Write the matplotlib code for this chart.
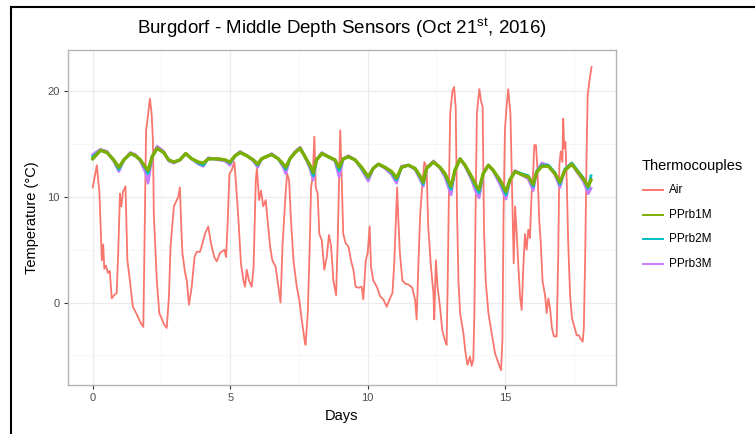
import matplotlib
matplotlib.use("Agg")
import matplotlib.pyplot as plt
from matplotlib.lines import Line2D

plt.rcParams["font.family"] = ["Liberation Sans", "DejaVu Sans"]
plt.rcParams["mathtext.fontset"] = "custom"
plt.rcParams["mathtext.rm"] = "Liberation Sans"
plt.rcParams["mathtext.it"] = "Liberation Sans:italic"

# Air temperature
air_days = [
    0.00, 0.08, 0.15, 0.20, 0.24, 0.33, 0.38, 0.42, 0.48, 0.55,
    0.62, 0.69, 0.78, 0.87, 0.93, 0.99, 1.04, 1.10, 1.19, 1.26,
    1.35, 1.46, 1.58, 1.76, 1.84, 1.88, 1.94, 2.00, 2.08, 2.14,
    2.19, 2.22, 2.33, 2.42, 2.60, 2.69, 2.77, 2.83, 2.95, 3.11,
    3.17, 3.21, 3.26, 3.36, 3.42, 3.50, 3.60, 3.70, 3.78, 3.90,
    3.99, 4.08, 4.20, 4.30, 4.42, 4.51, 4.63, 4.79, 4.85, 4.91,
    4.97, 5.05, 5.15, 5.20, 5.30, 5.39, 5.48, 5.54, 5.60, 5.68,
    5.78, 5.85, 5.93, 5.97, 6.05, 6.12, 6.20, 6.29, 6.36, 6.45,
    6.53, 6.65, 6.75, 6.83, 6.90, 6.97, 7.02, 7.07, 7.14, 7.21,
    7.30, 7.42, 7.51, 7.60, 7.70, 7.74, 7.82, 7.89, 7.94, 8.00,
    8.06, 8.11, 8.18, 8.24, 8.33, 8.42, 8.51, 8.59, 8.67, 8.75,
    8.85, 8.91, 8.96, 9.00, 9.05, 9.11, 9.20, 9.30, 9.39, 9.48,
    9.56, 9.66, 9.78, 9.84, 9.93, 10.00, 10.07, 10.12, 10.20, 10.33,
    10.45, 10.57, 10.69, 10.81, 10.90, 10.97, 11.02, 11.07, 11.11, 11.17,
    11.26, 11.36, 11.48, 11.62, 11.72, 11.78, 11.84, 11.91, 11.99, 12.06,
    12.14, 12.20, 12.30, 12.39, 12.42, 12.48, 12.54, 12.63, 12.71, 12.81,
    12.87, 12.91, 12.96, 13.00, 13.08, 13.14, 13.20, 13.25, 13.30, 13.36,
    13.48, 13.56, 13.63, 13.72, 13.78, 13.84, 13.88, 13.93, 13.97, 14.06,
    14.12, 14.18, 14.23, 14.29, 14.39, 14.51, 14.63, 14.75, 14.85, 14.90,
    14.94, 14.99, 15.05, 15.11, 15.19, 15.23, 15.31, 15.36, 15.42, 15.48,
    15.54, 15.60, 15.66, 15.72, 15.78, 15.84, 15.90, 15.96, 16.02, 16.06,
    16.12, 16.17, 16.24, 16.29, 16.36, 16.45, 16.51, 16.57, 16.63, 16.70,
    16.77, 16.87, 16.93, 16.97, 17.02, 17.08, 17.11, 17.15, 17.19, 17.24,
    17.29, 17.36, 17.43, 17.53, 17.60, 17.68, 17.74, 17.82, 17.86, 17.91,
    17.96, 18.00, 18.06, 18.11, 18.14,
]
air_temp = [
    10.9, 12.0, 13.0, 11.5, 10.6, 4.0, 5.5, 3.2, 3.5, 2.8,
    3.0, 0.4, 0.7, 0.9, 5.0, 10.3, 9.1, 10.5, 11.0, 4.0,
    2.1, -0.4, -1.0, -2.0, -2.3, 5.0, 16.3, 17.5, 19.3, 17.9,
    15.3, 8.4, 2.1, -1.0, -2.1, -2.4, 0.5, 5.3, 9.1, 10.0,
    10.9, 7.8, 4.7, 2.8, 2.1, -0.2, 1.5, 4.3, 4.8, 4.8,
    5.6, 6.5, 7.2, 5.6, 4.3, 3.9, 4.7, 5.0, 4.3, 7.8,
    12.2, 12.5, 13.3, 11.6, 7.8, 3.7, 2.1, 1.5, 3.1, 2.1,
    1.5, 3.4, 11.6, 12.7, 9.7, 10.6, 9.1, 9.7, 7.8, 5.3,
    4.0, 3.4, 1.5, 0.0, 5.3, 8.4, 10.6, 12.2, 11.6, 7.8,
    4.0, 1.5, 0.3, -1.6, -3.5, -4.0, -1.0, 5.3, 10.9, 11.9,
    15.7, 10.9, 10.3, 6.5, 5.9, 3.1, 4.3, 6.4, 5.3, 2.1,
    0.7, 5.9, 11.6, 16.3, 12.2, 6.5, 5.6, 5.3, 4.0, 3.1,
    1.5, 1.4, 1.5, 0.3, 4.0, 4.7, 7.2, 3.4, 2.1, 1.5,
    0.6, 0.3, -0.4, 0.4, 0.9, 4.0, 7.5, 10.9, 8.1, 4.7,
    2.1, 1.8, 1.7, 1.4, 0.3, -1.6, 3.4, 8.4, 11.3, 13.3,
    12.8, 7.2, 3.4, 0.9, -1.6, 4.0, 1.5, -0.4, -2.6, -3.6,
    -4.0, 2.1, 11.6, 17.9, 20.0, 20.4, 18.5, 8.4, 2.1, -1.0,
    -2.9, -4.8, -5.9, -5.1, -6.0, -5.4, -1.0, 10.0, 17.9, 20.2,
    19.1, 18.5, 6.9, 2.1, -1.0, -2.9, -4.8, -5.7, -6.4, -3.5,
    8.4, 16.3, 18.5, 20.2, 17.9, 13.1, 3.7, 9.1, 6.5, 3.4,
    0.6, -0.7, 3.4, 6.5, 5.0, 6.9, 6.1, 10.2, 12.5, 14.9,
    14.9, 12.8, 7.7, 5.8, 2.0, 0.7, -1.0, 0.4, -0.5, -2.4,
    -3.2, -3.2, 4.5, 13.0, 14.3, 13.3, 17.4, 14.6, 15.2, 11.4,
    5.8, 0.7, -1.5, -2.4, -3.1, -3.1, -3.4, -3.7, -2.4, 4.5,
    14.0, 19.6, 20.9, 21.8, 22.3,
]

# Thermocouple probes at middle depth
probe_days = [
    0.00, 0.28, 0.52, 0.76, 0.95, 1.13, 1.37, 1.55, 1.73, 1.92,
    2.01, 2.16, 2.34, 2.58, 2.76, 2.95, 3.17, 3.38, 3.60, 3.84,
    4.02, 4.20, 4.57, 4.81, 4.99, 5.18, 5.36, 5.60, 5.84, 6.00,
    6.14, 6.39, 6.51, 6.75, 6.93, 7.02, 7.17, 7.36, 7.54, 7.72,
    7.90, 8.02, 8.14, 8.33, 8.57, 8.81, 8.96, 9.11, 9.30, 9.54,
    9.78, 10.02, 10.20, 10.39, 10.63, 10.87, 11.05, 11.23, 11.48, 11.72,
    11.90, 12.02, 12.14, 12.39, 12.63, 12.81, 13.03, 13.17, 13.36, 13.54,
    13.78, 13.96, 14.05, 14.20, 14.39, 14.57, 14.81, 15.03, 15.17, 15.36,
    15.60, 15.84, 16.02, 16.14, 16.33, 16.57, 16.81, 16.99, 17.17, 17.42,
    17.60, 17.84, 18.02, 18.12,
]
pprb1m = [
    13.6, 14.4, 14.2, 13.5, 12.8, 13.5, 14.1, 13.9, 13.5, 12.8,
    12.5, 13.8, 14.6, 14.2, 13.5, 13.3, 13.5, 14.1, 13.6, 13.3,
    13.2, 13.6, 13.6, 13.5, 13.3, 13.9, 14.2, 13.9, 13.5, 13.1,
    13.6, 13.9, 14.0, 13.6, 13.1, 12.8, 13.6, 14.2, 14.6, 13.8,
    13.0, 12.3, 13.5, 14.1, 13.8, 13.5, 12.8, 13.6, 13.8, 13.5,
    12.8, 11.9, 12.7, 13.1, 12.8, 12.4, 11.8, 12.8, 13.0, 12.7,
    12.0, 11.4, 12.7, 13.3, 12.8, 12.2, 11.0, 12.5, 13.6, 13.0,
    11.9, 11.0, 10.7, 12.2, 13.0, 12.5, 11.6, 10.5, 11.6, 12.4,
    12.1, 11.9, 11.2, 12.3, 12.9, 12.9, 12.2, 11.4, 12.5, 13.1,
    12.5, 11.7, 11.0, 11.6,
]
pprb2m = [
    13.8, 14.4, 14.2, 13.5, 12.6, 13.5, 14.1, 13.9, 13.5, 12.7,
    12.2, 13.8, 14.6, 14.2, 13.5, 13.3, 13.5, 14.1, 13.6, 13.2,
    13.0, 13.6, 13.6, 13.5, 13.2, 13.9, 14.2, 13.9, 13.5, 13.0,
    13.6, 13.9, 14.0, 13.6, 13.0, 12.6, 13.6, 14.2, 14.6, 13.8,
    12.9, 12.0, 13.5, 14.1, 13.8, 13.5, 12.5, 13.6, 13.8, 13.5,
    12.7, 11.8, 12.7, 13.1, 12.8, 12.3, 11.6, 12.8, 13.0, 12.7,
    11.9, 11.2, 12.7, 13.3, 12.8, 12.1, 10.7, 12.5, 13.6, 13.0,
    11.8, 10.8, 10.4, 12.2, 13.0, 12.5, 11.5, 10.2, 11.6, 12.4,
    12.2, 12.0, 11.0, 12.4, 13.0, 13.0, 12.3, 11.2, 12.6, 13.2,
    12.6, 11.8, 10.8, 12.0,
]
pprb3m = [
    14.0, 14.5, 14.3, 13.4, 12.4, 13.5, 14.2, 14.0, 13.4, 12.3,
    11.3, 13.8, 14.8, 14.3, 13.4, 13.2, 13.5, 14.1, 13.6, 13.1,
    12.9, 13.7, 13.5, 13.4, 13.0, 13.9, 14.3, 13.9, 13.4, 12.8,
    13.6, 13.9, 14.1, 13.6, 12.8, 12.2, 13.6, 14.3, 14.7, 13.8,
    12.7, 11.6, 13.5, 14.2, 13.8, 13.4, 11.9, 13.6, 13.9, 13.5,
    12.6, 11.5, 12.7, 13.1, 12.7, 12.1, 11.3, 12.9, 13.0, 12.6,
    11.7, 11.0, 12.7, 13.4, 12.7, 11.9, 10.2, 12.5, 13.6, 12.9,
    11.6, 10.3, 9.9, 12.2, 13.0, 12.4, 11.2, 9.8, 11.6, 12.5,
    12.1, 11.7, 10.6, 12.4, 13.2, 13.0, 12.1, 10.9, 12.6, 13.2,
    12.4, 11.5, 10.3, 10.8,
]

series_names = ["Air", "PPrb1M", "PPrb2M", "PPrb3M"]
colors = {"Air": "#F8766D", "PPrb1M": "#7CAE00", "PPrb2M": "#00BFC4", "PPrb3M": "#C77CFF"}

W, H = 755, 434
fig = plt.figure(figsize=(W / 100, H / 100), dpi=100)
ax = fig.add_axes([68 / W, 1 - 385 / H, 548 / W, 335 / H])

ax.plot(air_days, air_temp, color=colors["Air"], lw=1.3, zorder=3)
ax.plot(probe_days, pprb3m, color=colors["PPrb3M"], lw=2.0, zorder=4)
ax.plot(probe_days, pprb2m, color=colors["PPrb2M"], lw=2.0, zorder=5)
ax.plot(probe_days, pprb1m, color=colors["PPrb1M"], lw=2.4, zorder=6)

ax.set_xlim(-0.9, 19.03)
ax.set_ylim(-7.8, 23.9)
ax.set_xticks([0, 5, 10, 15])
ax.set_yticks([0, 10, 20])
ax.set_xticks([2.5, 7.5, 12.5, 17.5], minor=True)
ax.set_yticks([-5, 5, 15], minor=True)
ax.grid(which="major", color="#ebebeb", lw=0.9)
ax.grid(which="minor", color="#f3f3f3", lw=0.5)
ax.set_axisbelow(True)
for s in ax.spines.values():
    s.set_color("#b3b3b3")
    s.set_linewidth(1.0)
ax.tick_params(which="major", length=3, width=0.8, color="#333333",
               labelcolor="#4d4d4d", labelsize=8, pad=3)
ax.tick_params(which="minor", length=0)

ax.set_xlabel("Days", fontsize=10.5, labelpad=4)
ax.set_ylabel("Temperature (°C)", fontsize=10.5, labelpad=6)

fig.text(342 / W, 1 - 28 / H, "Burgdorf - Middle Depth Sensors (Oct 21$^{\\rm st}$, 2016)",
         ha="center", va="center", fontsize=13.5)

# legend, drawn by hand in ggplot style
fig.text(642 / W, 1 - 166 / H, "Thermocouples", ha="left", va="center", fontsize=10.5)
for i, name in enumerate(series_names):
    y = 1 - (190 + i * 24.7) / H
    fig.add_artist(Line2D([643 / W, 663 / W], [y, y], color=colors[name], lw=1.4))
    fig.text(669 / W, y, name, ha="left", va="center", fontsize=8.5)

# black frame on the left and top edges
fig.add_artist(Line2D([11 / W, 11 / W], [0, 1 - 7 / H], color="black", lw=1.5))
fig.add_artist(Line2D([11 / W, 1], [1 - 7 / H, 1 - 7 / H], color="black", lw=1.5))

fig.savefig("out.png", dpi=100)
